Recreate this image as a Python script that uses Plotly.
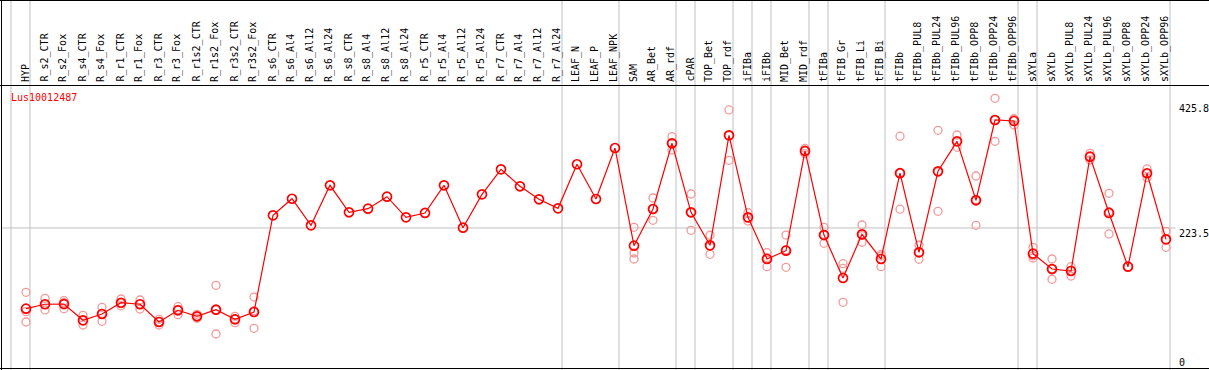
import plotly.graph_objects as go

categories = ["HYP", "R_s2_CTR", "R_s2_Fox", "R_s4_CTR", "R_s4_Fox", "R_r1_CTR", "R_r1_Fox",
              "R_r3_CTR", "R_r3_Fox", "R_r1s2_CTR", "R_r1s2_Fox", "R_r3s2_CTR", "R_r3s2_Fox",
              "R_s6_CTR", "R_s6_Al4", "R_s6_Al12", "R_s6_Al24", "R_s8_CTR", "R_s8_Al4", "R_s8_Al12",
              "R_s8_Al24", "R_r5_CTR", "R_r5_Al4", "R_r5_Al12", "R_r5_Al24", "R_r7_CTR", "R_r7_Al4",
              "R_r7_Al12", "R_r7_Al24", "LEAF_N", "LEAF_P", "LEAF_NPK", "SAM", "AR_Bet", "AR_rdf",
              "cPAR", "TOP_Bet", "TOP_rdf", "iFIBa", "iFIBb", "MID_Bet", "MID_rdf", "tFIBa",
              "tFIB_Gr", "tFIB_Li", "tFIB_Bi", "tFIBb", "tFIBb_PUL8", "tFIBb_PUL24", "tFIBb_PUL96",
              "tFIBb_OPP8", "tFIBb_OPP24", "tFIBb_OPP96", "sXYLa", "sXYLb", "sXYLb_PUL8",
              "sXYLb_PUL24", "sXYLb_PUL96", "sXYLb_OPP8", "sXYLb_OPP24", "sXYLb_OPP96"]

means = [93.2, 100.3, 100.7, 74.4, 84.6, 102.8, 100.3, 71.7, 90.6, 80.9, 91.5, 76.0, 87.8,
         243.9, 270.7, 227.8, 292.4, 248.8, 254.6, 274.0, 240.7, 247.7, 292.4, 223.9, 277.8,
         318.2, 290.8, 269.8, 255.2,
         326.4, 270.3, 352.6,
         194.9, 254.1, 360.2, 248.8, 195.5, 373.1, 240.7, 173.4, 186.8, 347.8, 212.1, 142.7,
         213.3, 173.4,
         311.9, 184.2, 315.0, 363.4, 268.2, 397.8, 396.2,
         182.0, 157.2, 154.0, 338.6, 247.7, 161.0, 311.8, 205.2]

replicates = [
    [119.6, 88.3, 71.7], [109.9, 99.9, 91.1], [106.1, 103.0, 93.2], [82.5, 73.9, 66.8],
    [95.4, 85.6, 72.8], [108.8, 101.7, 98.0], [107.2, 100.7, 92.7], [76.0, 72.2, 66.8],
    [96.4, 91.9, 83.5], [84.1, 80.9, 77.7], [130.9, 91.4, 52.3], [80.9, 76.5, 70.6],
    [112.0, 89.9, 61.5],
    [], [], [], [], [], [], [], [], [], [], [], [], [], [], [], [],
    [], [], [],
    [224.6, 183.1, 173.4], [271.9, 254.6, 235.9], [370.9, 360.2, 349.4], [278.3, 248.1, 219.7],
    [211.7, 193.9, 181.0], [414.0, 372.6, 332.7], [248.1, 239.3, 234.7], [183.6, 175.7, 161.0],
    [212.1, 188.2, 160.0], [352.1, 347.8, 343.4], [224.6, 213.1, 198.7], [165.8, 158.4, 103.5],
    [228.3, 211.2, 200.4], [181.0, 178.2, 161.0],
    [371.7, 312.2, 253.8], [196.0, 183.7, 172.9], [381.2, 313.9, 250.4], [373.6, 362.9, 353.7],
    [307.4, 269.3, 227.8], [432.8, 397.2, 363.4], [399.9, 398.9, 389.7],
    [192.3, 178.6, 175.0], [173.4, 157.7, 140.6], [161.0, 155.1, 145.9], [344.0, 338.4, 333.2],
    [279.5, 249.8, 213.8], [161.0], [319.0, 311.3, 304.8], [218.1, 204.7, 192.3],
]

group_ends = ["HYP", "R_r7_Al24", "LEAF_NPK", "AR_rdf", "cPAR", "TOP_rdf", "iFIBa", "iFIBb",
              "MID_rdf", "tFIBa", "tFIB_Bi", "tFIBb_OPP96", "sXYLa", "sXYLb_OPP96"]
y_ticks = [0, 223.5, 425.8]
gene_id = "Lus10012487"

W, H = 1209, 370
FONT = "DejaVu Sans Mono"
idx = list(range(len(categories)))

rx, ry = [], []
for i, vals in enumerate(replicates):
    for v in vals:
        rx.append(i)
        ry.append(v)

fig = go.Figure()
fig.add_trace(go.Scatter(x=rx, y=ry, mode="markers",
                         marker=dict(symbol="circle-open", size=8, color="#f29a9a",
                                     line=dict(width=1.3, color="#f29a9a")),
                         hoverinfo="skip", showlegend=False))
fig.add_trace(go.Scatter(x=idx, y=means, mode="lines+markers",
                         line=dict(color="#ff0000", width=1.2),
                         marker=dict(symbol="circle-open", size=9, color="#ff0000",
                                     line=dict(width=1.7, color="#ff0000")),
                         showlegend=False))

shapes = []
# vertical separators (start + after each group)
sep_positions = [-1] + [categories.index(c) for c in group_ends]
for s in sep_positions:
    xs = s + 0.21
    shapes.append(dict(type="line", xref="x", yref="paper", x0=xs, x1=xs, y0=0, y1=1,
                       line=dict(color="#c0c0c0", width=1), layer="below"))
# horizontal median line
shapes.append(dict(type="line", xref="x", yref="y", x0=-1.3, x1=60.5, y0=y_ticks[1], y1=y_ticks[1],
                   line=dict(color="#c0c0c0", width=1), layer="below"))
# frame lines
label_line = 1 - 85.5 / H
shapes += [
    dict(type="line", xref="paper", yref="paper", x0=0, x1=1, y0=1 - 0.5 / H, y1=1 - 0.5 / H,
         line=dict(color="black", width=1)),
    dict(type="line", xref="paper", yref="paper", x0=0, x1=1, y0=label_line, y1=label_line,
         line=dict(color="black", width=1.2)),
    dict(type="line", xref="paper", yref="paper", x0=1.5 / W, x1=1.5 / W, y0=0, y1=1,
         line=dict(color="black", width=1)),
    dict(type="line", xref="paper", yref="paper", x0=0, x1=1, y0=1.5 / H, y1=1.5 / H,
         line=dict(color="black", width=1.2)),
]

annotations = []
for i, c in enumerate(categories):
    annotations.append(dict(x=i, y=1 - 84 / H, xref="x", yref="paper", text=c, showarrow=False,
                            textangle=-90, xanchor="center", yanchor="bottom", xshift=-1,
                            font=dict(family=FONT, size=10, color="black")))
annotations.append(dict(x=9 / W, y=1 - 97 / H, xref="paper", yref="paper", text=gene_id,
                        showarrow=False, xanchor="left", yanchor="middle",
                        font=dict(family=FONT, size=10, color="#ff0000")))
tick_shift = {0: 11}
for t in y_ticks:
    annotations.append(dict(x=1177 / W, y=t, xref="paper", yref="y", text=f"{t:g}",
                            showarrow=False, xanchor="left", yanchor="top",
                            yshift=tick_shift.get(t, 2),
                            font=dict(family=FONT, size=10, color="black")))

x_min = -26 / 19
x_max = x_min + W / 19
px_per_unit = 0.6194
y_max = 366.4 / px_per_unit
y_min = y_max - H / px_per_unit

fig.update_layout(
    width=W, height=H, margin=dict(l=0, r=0, t=0, b=0),
    paper_bgcolor="white", plot_bgcolor="white",
    xaxis=dict(range=[x_min, x_max], visible=False, fixedrange=True),
    yaxis=dict(range=[y_min, y_max], visible=False, fixedrange=True),
    shapes=shapes, annotations=annotations, showlegend=False,
)
fig.write_html("out.html", config={"displayModeBar": False},
               post_script="document.body.style.margin='0';document.body.style.overflow='hidden';")
